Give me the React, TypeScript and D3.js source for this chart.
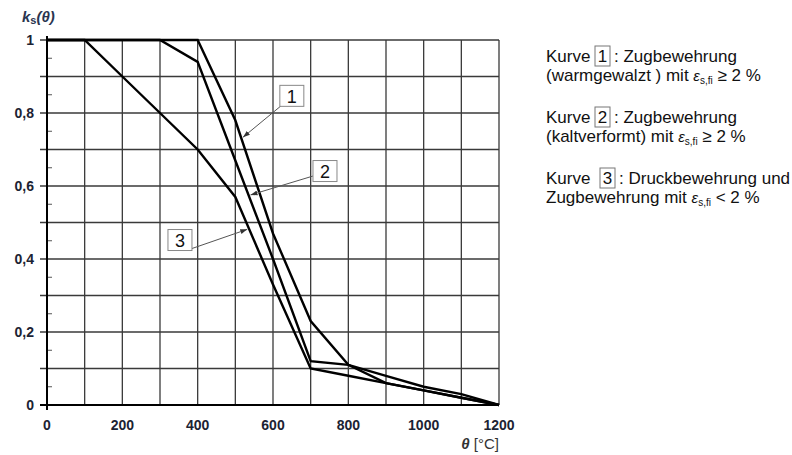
import React from "react";
import * as d3 from "d3";

const temps = [0, 100, 200, 300, 400, 500, 600, 700, 800, 900, 1000, 1100, 1200];
const curve1 = [1, 1, 1, 1, 1, 0.78, 0.47, 0.23, 0.11, 0.06, 0.04, 0.02, 0];
const curve2 = [1, 1, 1, 1, 0.94, 0.67, 0.4, 0.12, 0.11, 0.08, 0.05, 0.03, 0];
const curve3 = [1, 1, 0.9, 0.8, 0.7, 0.57, 0.33, 0.1, 0.08, 0.06, 0.04, 0.02, 0];
const xTicks = [0, 200, 400, 600, 800, 1000, 1200];
const yTicks = [0, 0.2, 0.4, 0.6, 0.8, 1];
const yTickLabels = ["0", "0,2", "0,4", "0,6", "0,8", "1"];
const curveLabels = ["1", "2", "3"];
// label box position (data units) and arrow target temperature on the curve
const labelBoxTheta = [650, 738, 353];
const labelBoxK = [0.847, 0.641, 0.452];
const arrowTheta = [515, 535, 537];

const W = 792;
const H = 455;

export default function App() {
  const x = d3.scaleLinear().domain([0, 1200]).range([47, 499]);
  const y = d3.scaleLinear().domain([0, 1]).range([405, 40]);
  const series = [curve1, curve2, curve3];
  const line = d3
    .line<number>()
    .x((_, i) => x(temps[i]))
    .y((d) => y(d));

  const interp = (s: number[], t: number) => {
    const f = d3.scaleLinear().domain(temps).range(s);
    return f(t);
  };

  const vGrid = d3.range(100, 1201, 100);
  const hGrid = d3.range(1, 11).map((v) => v / 10);
  const minor = d3.range(0, 10).map((v) => v / 10 + 0.05);

  const fontAxis = "Liberation Sans, Arial, sans-serif";
  const labelColor = "#1c2333";

  const boxW = 24;
  const boxH = 21;

  return (
    <svg
      width={W}
      height={H}
      style={{ position: "absolute", left: 0, top: 0, background: "#fff" }}
      fontFamily={fontAxis}
    >
      <rect x={0} y={0} width={W} height={H} fill="#fff" />
      {/* grid */}
      {vGrid.map((v) => (
        <line
          key={"v" + v}
          x1={x(v)}
          x2={x(v)}
          y1={y(1)}
          y2={y(0)}
          stroke="#3a3a3a"
          strokeWidth={1.3}
        />
      ))}
      {hGrid.map((v) => (
        <line
          key={"h" + v}
          x1={x(0) - 7}
          x2={x(1200)}
          y1={y(v)}
          y2={y(v)}
          stroke="#3a3a3a"
          strokeWidth={1.3}
        />
      ))}
      {minor.map((v) => (
        <line
          key={"m" + v}
          x1={x(0)}
          x2={x(0) + 5}
          y1={y(v)}
          y2={y(v)}
          stroke="#555"
          strokeWidth={1}
        />
      ))}
      {/* axes */}
      <line x1={x(0)} x2={x(0)} y1={y(1) - 4} y2={y(0) + 5} stroke="#000" strokeWidth={2} />
      <line x1={x(0) - 7} x2={x(1200)} y1={y(0)} y2={y(0)} stroke="#000" strokeWidth={2} />

      {/* curves */}
      {series.map((s, i) => (
        <path
          key={"c" + i}
          d={line(s) || ""}
          fill="none"
          stroke="#000"
          strokeWidth={2.4}
          strokeLinejoin="miter"
        />
      ))}

      {/* curve labels with leaders */}
      <defs>
        <marker
          id="arr"
          viewBox="0 0 10 10"
          refX={10}
          refY={5}
          markerWidth={7}
          markerHeight={7}
          orient="auto"
          markerUnits="userSpaceOnUse"
        >
          <path d="M0,1.5 L10,5 L0,8.5 z" fill="#333" />
        </marker>
      </defs>
      {curveLabels.map((lab, i) => {
        const cx = x(labelBoxTheta[i]);
        const cy = y(labelBoxK[i]);
        const tx = x(arrowTheta[i]);
        const ty = y(interp(series[i], arrowTheta[i]));
        let sx: number;
        let sy: number;
        if (i === 0) {
          sx = cx - boxW / 2 + 3;
          sy = cy + boxH / 2 - 2;
        } else if (i === 1) {
          sx = cx - boxW / 2;
          sy = cy + 5;
        } else {
          sx = cx + boxW / 2;
          sy = cy + boxH / 2 - 2;
        }
        return (
          <g key={"l" + i}>
            <line
              x1={sx}
              y1={sy}
              x2={tx + (i === 2 ? -2 : 2)}
              y2={ty}
              stroke="#555"
              strokeWidth={1}
              markerEnd="url(#arr)"
            />
            <rect
              x={cx - boxW / 2}
              y={cy - boxH / 2}
              width={boxW}
              height={boxH}
              fill="#fff"
              stroke="#888"
              strokeWidth={1}
            />
            <text
              x={cx}
              y={cy + 7}
              textAnchor="middle"
              fontSize={18}
              fill="#111"
            >
              {lab}
            </text>
          </g>
        );
      })}

      {/* tick labels */}
      {xTicks.map((t) => (
        <text
          key={"xt" + t}
          x={x(t)}
          y={430}
          textAnchor="middle"
          fontSize={14}
          fontWeight="bold"
          fill={labelColor}
        >
          {t}
        </text>
      ))}
      {yTicks.map((t, i) => (
        <text
          key={"yt" + t}
          x={34}
          y={y(t) + 5}
          textAnchor="end"
          fontSize={14}
          fontWeight="bold"
          fill={labelColor}
        >
          {yTickLabels[i]}
        </text>
      ))}

      {/* axis titles */}
      <text x={22} y={22} fontSize={15} fontWeight="bold" fontStyle="italic" fill="#2a3550">
        k
        <tspan fontSize={11} fontStyle="normal" dy={2}>s</tspan>
        <tspan dy={-2}>(θ)</tspan>
      </text>
      <text x={499} y={449} textAnchor="end" fontSize={15} fill="#333">
        <tspan fontWeight="bold" fontStyle="italic">θ</tspan>
        <tspan> [°C]</tspan>
      </text>

      {/* legend */}
      <g fontSize={17} fill="#111">
        {[
          { y0: 62, n: "1", boxX: 595, rest: ": Zugbewehrung" },
          { y0: 123, n: "2", boxX: 595, rest: ": Zugbewehrung" },
          { y0: 184, n: "3", boxX: 600, rest: ": Druckbewehrung und" },
        ].map((l, i) => (
          <g key={"lg" + i}>
            <text x={546} y={l.y0}>Kurve</text>
            <rect x={l.boxX} y={l.y0 - 16} width={15} height={20} fill="none" stroke="#777" strokeWidth={1} />
            <text x={l.boxX + 7.5} y={l.y0} textAnchor="middle">{l.n}</text>
            <text x={l.boxX + 19} y={l.y0}>{l.rest}</text>
          </g>
        ))}
        <text x={546} y={81}>
          (warmgewalzt ) mit{"  "}
          <tspan fontStyle="italic" fontSize={15}>ε</tspan>
          <tspan fontSize={10} dy={3}>s,fi</tspan>
          <tspan dy={-3}> ≥ 2 %</tspan>
        </text>
        <text x={546} y={142}>
          (kaltverformt) mit{" "}
          <tspan fontStyle="italic" fontSize={15}>ε</tspan>
          <tspan fontSize={10} dy={3}>s,fi</tspan>
          <tspan dy={-3}> ≥ 2 %</tspan>
        </text>
        <text x={546} y={203}>
          Zugbewehrung mit{" "}
          <tspan fontStyle="italic" fontSize={15}>ε</tspan>
          <tspan fontSize={10} dy={3}>s,fi</tspan>
          <tspan dy={-3}> &lt; 2 %</tspan>
        </text>
      </g>
    </svg>
  );
}
